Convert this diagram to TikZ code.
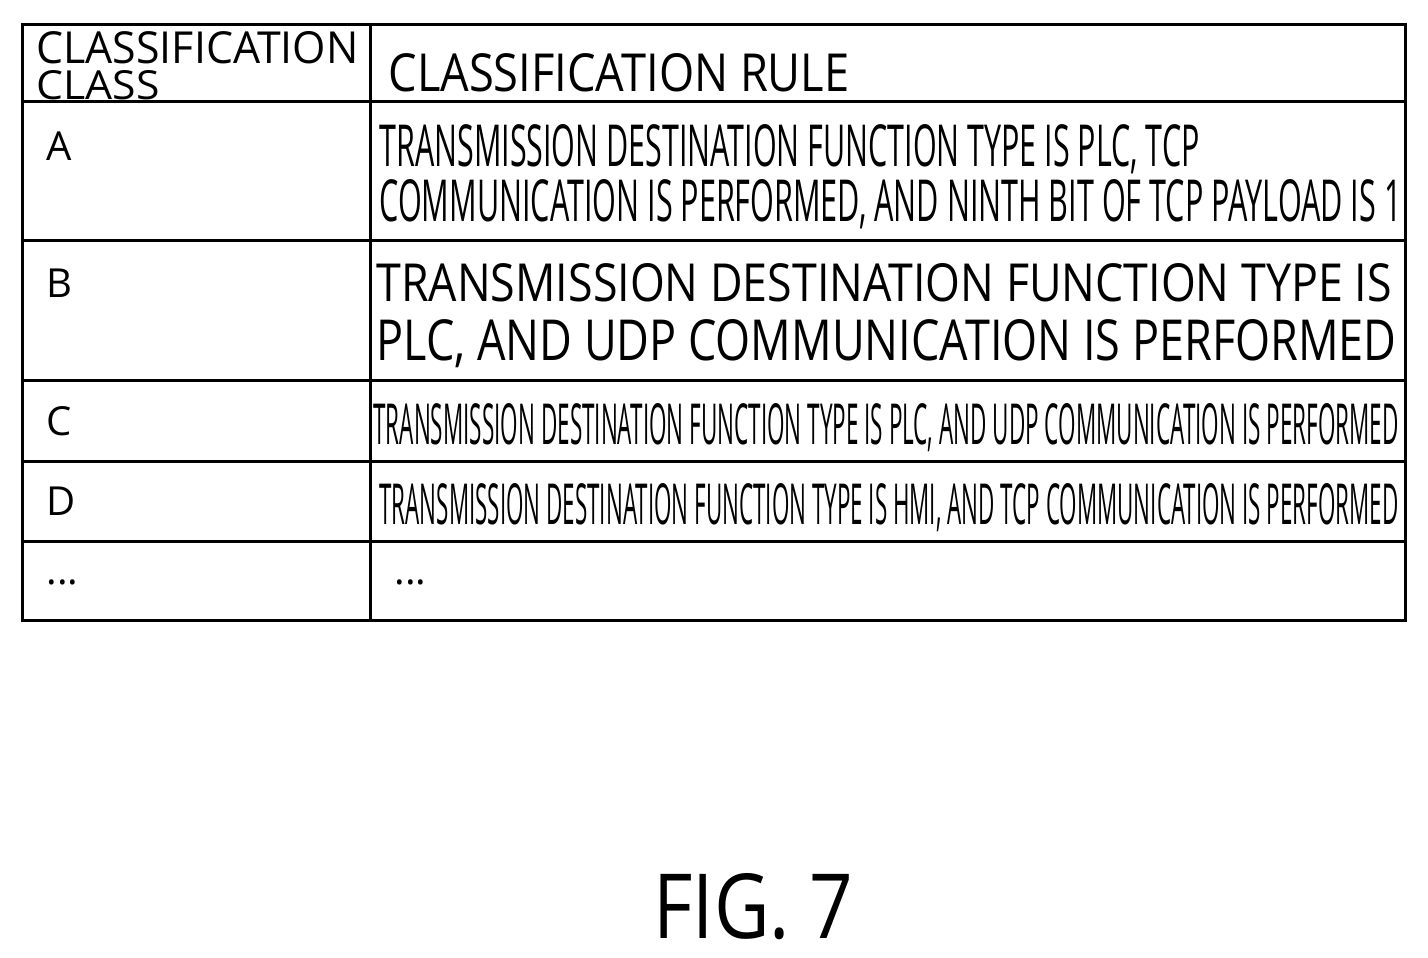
\documentclass[tikz,border=0pt]{standalone}
\usepackage{fontspec}
\usepackage{graphicx}
\setmainfont{Open Sans}
\newcommand{\fitbox}[3]{\resizebox{#1pt}{#2pt}{#3}}
\tikzset{cell text/.style={anchor=north west, inner sep=0pt, font=\fontsize{40}{44}\selectfont}}

\begin{document}
\begin{tikzpicture}[x=1pt,y=-1pt,line width=3pt]
    \useasboundingbox (0,0) rectangle (1428,958);

    % Table frame
    \draw (22,25) rectangle (1405,620);
    \draw (370,25) -- (370,620);
    \foreach \y in {102,240,380,461,541}
      \draw (22,\y) -- (1405,\y);

    % Header
    \node[cell text] (hclass1) at (35,30) {\fitbox{322}{32}{CLASSIFICATION}};
    \node[cell text] (hclass2) at (35,69) {\fitbox{123}{29}{CLASS}};
    \node[cell text] (hrule) at (387,52) {\fitbox{461}{38}{CLASSIFICATION RULE}};

    % Classes
    \node[cell text] (ca) at (45,130) {A};
    \node[cell text] (cb) at (45,267) {B};
    \node[cell text] (cc) at (45,405) {C};
    \node[cell text] (cd) at (45,485) {D};
    \node[cell text] (cdots) at (45,578) {...};

    % Rules
    \node[cell text] (ra1) at (378,123) {\fitbox{820}{42}{TRANSMISSION DESTINATION FUNCTION TYPE IS PLC, TCP}};
    \node[cell text] (ra2) at (378,178) {\fitbox{1022}{42}{COMMUNICATION IS PERFORMED, AND NINTH BIT OF TCP PAYLOAD IS 1}};
    \node[cell text] (rb1) at (375,262) {\fitbox{1015}{38}{TRANSMISSION DESTINATION FUNCTION TYPE IS}};
    \node[cell text] (rb2) at (375,318) {\fitbox{1020}{41}{PLC, AND UDP COMMUNICATION IS PERFORMED}};
    \node[cell text] (rc) at (372,402) {\fitbox{1025}{41}{TRANSMISSION DESTINATION FUNCTION TYPE IS PLC, AND UDP COMMUNICATION IS PERFORMED}};
    \node[cell text] (rd) at (378,482) {\fitbox{1019}{41}{TRANSMISSION DESTINATION FUNCTION TYPE IS HMI, AND TCP COMMUNICATION IS PERFORMED}};
    \node[cell text] (rdots) at (393,578) {...};

    % Caption
    \node[anchor=north west, inner sep=0pt] (fig) at (652,872) {\fitbox{200}{65}{FIG. 7}};
\end{tikzpicture}
\end{document}
